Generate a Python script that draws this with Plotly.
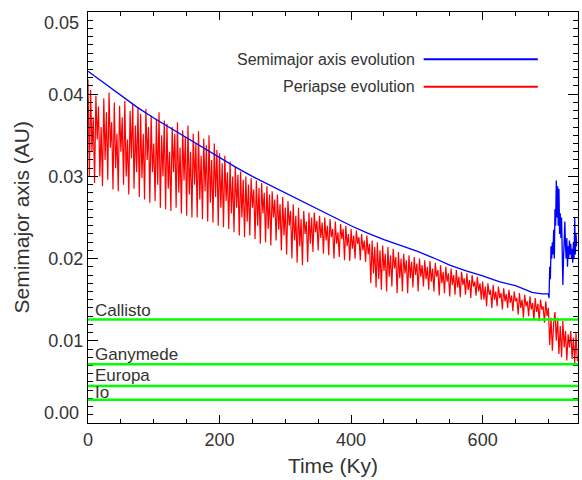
import plotly.graph_objects as go

# ---------------- data ----------------
blue_t = [0, 25, 50, 75, 100, 125, 150, 175, 200, 225, 250, 275, 300, 325, 350, 375,
          400, 425, 450, 475, 500, 525, 550, 575, 600, 625, 650, 675, 690, 700,
          701, 702, 703, 704, 705, 706, 707, 708, 709, 710, 711, 712, 713, 714, 715,
          716, 717, 718, 719, 720, 721, 722, 723, 724, 725, 726, 727, 728, 729, 730,
          731, 732, 733, 734, 735, 736, 737, 738, 739, 740, 741, 742, 743]
blue_a = [0.0428, 0.0413, 0.0398, 0.0384, 0.0371, 0.0359, 0.0346, 0.0334, 0.0322, 0.0311,
          0.0300, 0.0290, 0.0280, 0.0269, 0.0259, 0.0249, 0.0240, 0.0231, 0.0223, 0.0216,
          0.0209, 0.0201, 0.0192, 0.0185, 0.0179, 0.0172, 0.0167, 0.0159, 0.0157, 0.0157,
          0.0152, 0.0190, 0.0175, 0.0215, 0.0200, 0.0220, 0.0205, 0.0235, 0.0200, 0.0260,
          0.0240, 0.0295, 0.0250, 0.0288, 0.0240, 0.0285, 0.0230, 0.0255, 0.0225, 0.0250,
          0.0215, 0.0168, 0.0200, 0.0225, 0.0245, 0.0215, 0.0200, 0.0225, 0.0190, 0.0215,
          0.0200, 0.0222, 0.0205, 0.0218, 0.0200, 0.0212, 0.0195, 0.0220, 0.0200, 0.0250,
          0.0205, 0.0230, 0.0215]

# periapse, sampled every 2 Ky from t = 0 (values in units of 1e-4 AU)
red_t0 = 0
red_dt = 2
red_q = [
    418, 300, 405, 330, 372, 292, 398, 345, 385, 300, 360, 288, 395, 320, 378, 296, 402, 335, 366, 284,
    390, 310, 352, 282, 386, 330, 372, 290, 392, 300, 345, 278, 380, 322, 388, 285, 362, 305, 384, 275,
    376, 298, 352, 272, 382, 320, 360, 268, 374, 305, 340, 270, 370, 290, 378, 262, 350, 300, 368, 260,
    364, 285, 330, 258, 360, 305, 352, 262, 366, 280, 335, 255, 356, 295, 348, 252, 362, 278, 330, 250,
    352, 290, 340, 250, 355, 272, 325, 248, 346, 282, 338, 245, 350, 268, 320, 244, 340, 275, 332, 240,
    328, 262, 316, 238, 325, 270, 305, 236, 318, 255, 300, 232, 312, 262, 302, 228, 306, 250, 296, 226,
    300, 245, 290, 228, 298, 262, 284, 224, 295, 240, 286, 218, 292, 255, 280, 220, 288, 236, 278, 216,
    282, 250, 272, 222, 278, 235, 266, 210, 275, 228, 262, 205, 270, 240, 258, 200, 266, 222, 252, 195,
    262, 215, 248, 192, 258, 230, 245, 196, 256, 218, 250, 208, 256, 232, 246, 210, 252, 225, 244, 206,
    250, 222, 240, 204, 248, 226, 236, 200, 245, 218, 232, 202, 242, 224, 236, 198, 240, 215, 230, 197,
    236, 212, 228, 200, 234, 218, 226, 198, 230, 210, 222, 196, 228, 205, 218, 170, 222, 182, 214, 165,
    220, 175, 210, 162, 216, 185, 206, 160, 214, 178, 204, 166, 212, 188, 202, 158, 208, 176, 200, 160,
    206, 182, 198, 158, 204, 176, 196, 165, 202, 180, 194, 160, 200, 178, 192, 166, 198, 175, 190, 162,
    197, 172, 188, 160, 195, 178, 186, 155, 192, 170, 184, 158, 190, 172, 182, 154, 188, 168, 180, 156,
    186, 165, 178, 153, 184, 168, 176, 156, 182, 162, 174, 152, 180, 166, 172, 155, 178, 160, 170, 150,
    172, 150, 166, 142, 170, 156, 162, 140, 168, 150, 160, 142, 166, 152, 158, 138, 164, 148, 157, 140,
    162, 146, 155, 136, 160, 148, 152, 132, 158, 140, 150, 128, 156, 142, 148, 130, 154, 138, 146, 125,
    152, 135, 145, 124, 150, 138, 142, 122, 148, 130,
    140, 95, 128, 88, 122, 135, 100, 128, 84, 118, 80, 124, 92, 112, 76, 108, 92, 112, 78, 104,
    72, 110, 75]

moon_names = ["Callisto", "Ganymede", "Europa", "Io"]
moon_a = [0.01259, 0.00716, 0.00449, 0.00282]

x_ticks = [0, 200, 400, 600]
y_ticks = [0.00, 0.01, 0.02, 0.03, 0.04, 0.05]
y_tick_text = ["0.00", "0.01", "0.02", "0.03", "0.04", "0.05"]

legend_names = ["Semimajor axis evolution", "Periapse evolution"]

# ---------------- figure ----------------
FONT = "Liberation Sans, Arial, Helvetica, sans-serif"
TXT = "#333333"

red_t = [red_t0 + red_dt * i for i in range(len(red_q))]
red_a = [v * 1e-4 for v in red_q]

fig = go.Figure()
fig.add_trace(go.Scatter(x=red_t, y=red_a, mode="lines",
                         line=dict(color="#ff0000", width=1.2), showlegend=False))
fig.add_trace(go.Scatter(x=blue_t, y=blue_a, mode="lines",
                         line=dict(color="#0000ff", width=1.3), showlegend=False))

moon_shift = [-1, -1, 0, -3]
for name, a, ys in zip(moon_names, moon_a, moon_shift):
    fig.add_shape(type="line", xref="paper", x0=0, x1=1, yref="y", y0=a, y1=a,
                  line=dict(color="#00ff00", width=2.5))
    fig.add_annotation(x=0, xref="paper", y=a, yref="y", text=name, showarrow=False,
                       xanchor="left", yanchor="bottom", xshift=6, yshift=ys, borderpad=0,
                       font=dict(family=FONT, size=17, color=TXT))

# legend (text left of sample line)
leg_colors = ["#0000ff", "#ff0000"]
leg_y = [0.885, 0.818]
for name, c, ly in zip(legend_names, leg_colors, leg_y):
    fig.add_shape(type="line", xref="paper", yref="paper", x0=0.685, x1=0.918,
                  y0=ly, y1=ly, line=dict(color=c, width=2))
    fig.add_annotation(x=0.672, xref="paper", y=ly, yref="paper", text=name,
                       showarrow=False, xanchor="right", yanchor="middle",
                       font=dict(family=FONT, size=16, color=TXT))

# y end labels shifted inward
fig.add_annotation(x=0, xref="paper", y=y_ticks[0], yref="y", text=y_tick_text[0],
                   showarrow=False, xanchor="right", yanchor="middle", xshift=-7, yshift=10,
                   font=dict(family=FONT, size=18, color=TXT))
fig.add_annotation(x=0, xref="paper", y=y_ticks[-1], yref="y", text=y_tick_text[-1],
                   showarrow=False, xanchor="right", yanchor="middle", xshift=-7, yshift=-11,
                   font=dict(family=FONT, size=18, color=TXT))

# y axis title
fig.add_annotation(x=0, xref="paper", y=0.5, yref="paper", text="Semimajor axis (AU)",
                   showarrow=False, textangle=-90, xanchor="center", yanchor="middle",
                   xshift=-67, font=dict(family=FONT, size=21, color=TXT))

mid_text = [""] + y_tick_text[1:-1] + [""]

fig.update_layout(
    width=582, height=480,
    margin=dict(l=88, r=4, t=12, b=57),
    paper_bgcolor="white", plot_bgcolor="white",
    font=dict(family=FONT, size=18, color=TXT),
    xaxis=dict(range=[0, 745], showgrid=False, zeroline=False,
               showline=True, linecolor="black", linewidth=1, mirror="ticks",
               ticks="inside", ticklen=8, tickcolor="black", tickwidth=1,
               tickvals=x_ticks, tickfont=dict(family=FONT, size=18, color=TXT),
               minor=dict(dtick=50, ticks="inside", ticklen=4, tickcolor="black"),
               title=dict(text="Time (Ky)", font=dict(family=FONT, size=21, color=TXT),
                          standoff=9)),
    yaxis=dict(range=[0, 0.05], showgrid=False, zeroline=False,
               showline=True, linecolor="black", linewidth=1, mirror="ticks",
               ticks="inside", ticklen=10, tickcolor="black", tickwidth=1,
               tickvals=y_ticks, ticktext=mid_text,
               tickfont=dict(family=FONT, size=18, color=TXT),
               minor=dict(dtick=0.001, ticks="inside", ticklen=5, tickcolor="black")),
)

fig.write_html("out.html")
